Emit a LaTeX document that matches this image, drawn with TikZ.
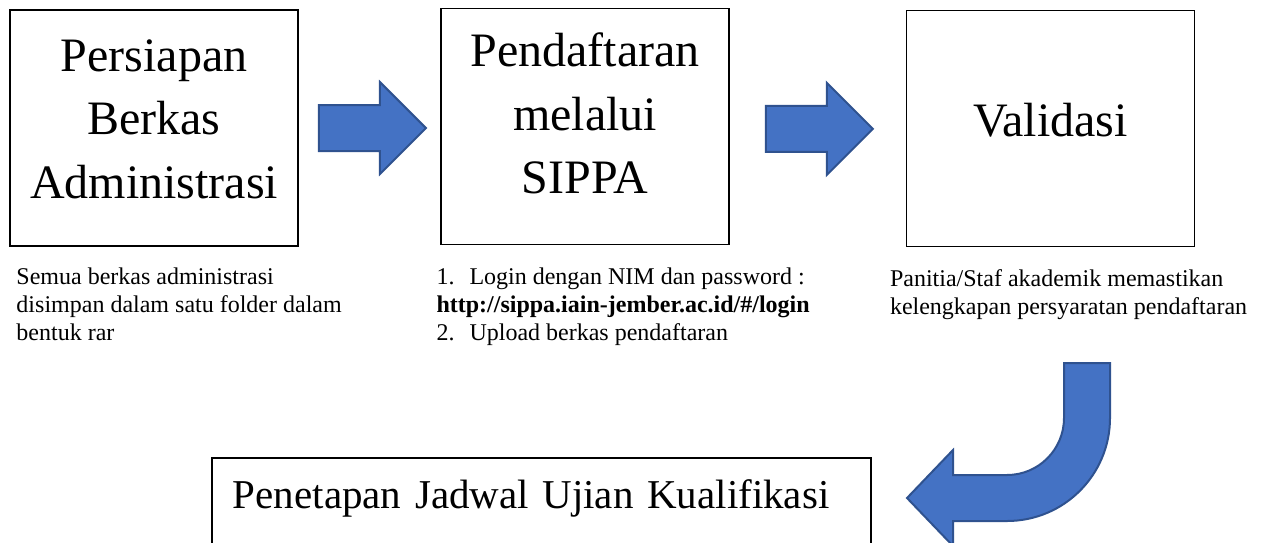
\documentclass[tikz,border=0pt]{standalone}
\usepackage{fontspec}
\setmainfont{Liberation Serif}
\usetikzlibrary{shapes.arrows}
\usetikzlibrary{positioning}
\definecolor{arrowblue}{HTML}{4472C4}
\definecolor{arrowedge}{HTML}{2F528F}
\tikzstyle{arrow fill} = [fill=arrowblue, draw=arrowedge, line width=1pt, line join=miter]

\begin{document}
\begin{tikzpicture}[x=0.5pt, y=-0.5pt,
    step box/.style={draw, line width=0.9pt, minimum width=144pt, minimum height=118pt, inner sep=0pt},
    box text/.style={inner sep=0pt, align=center, font=\fontsize{24}{31.75}\selectfont},
    note/.style={inner sep=0pt, align=left, font=\fontsize{12}{14}\selectfont},
    block arrow/.style={single arrow, arrow fill, inner xsep=0pt, inner ysep=11pt,
                        minimum height=53.5pt, single arrow head extend=11.5pt,
                        single arrow tip angle=90, single arrow head indent=0pt}]

  \useasboundingbox (0,0) rectangle (1262,542);

  % the three steps
  \node[step box] (berkas) at (154,128) {};
  \node[box text] (berkas text) at ([yshift=4.5pt]berkas.center) {Persiapan\\Berkas\\Administrasi};
  \node[step box] (daftar) at (585,126.5) {};
  \node[box text] (daftar text) at ([yshift=6.5pt]daftar.center) {Pendaftaran\\melalui\\SIPPA};
  \node[step box] (validasi) at (1050.5,128.5) {};
  \node[box text] (validasi text) at ([yshift=4pt]validasi.center) {Validasi};

  \node[note, below right=10.3pt and 3.5pt of berkas.south west] (noteberkas)
    {Semua berkas administrasi\\disimpan dalam satu folder dalam\\bentuk rar};
  \node[note, below right=10.8pt and -2pt of daftar.south west] (notedaftar)
    {\makebox[16.5pt][l]{1.}Login dengan NIM dan password :\\
     \textbf{http://sippa.iain-jember.ac.id/\#/login}\\
     \makebox[16.5pt][l]{2.}Upload berkas pendaftaran};
  \node[note, below right=10.8pt and -8pt of validasi.south west] (notevalidasi)
    {Panitia/Staf akademik memastikan\\kelengkapan persyaratan pendaftaran};

  \node[block arrow, right=9.5pt of berkas] (arrow1) {};
  \node[block arrow, right=17.5pt of daftar, yshift=-1.2pt] (arrow2) {};

  % last step, runs off the bottom
  \node[draw, line width=0.9pt, anchor=north west, inner xsep=10.5pt, inner ysep=12.5pt,
        text width=308.5pt, align=left, text height=13pt, text depth=40pt,
        font=\fontsize{20.5}{24}\selectfont] (jadwal) at (211,457)
    {Penetapan Jadwal Ujian Kualifikasi};

  \draw[arrow fill] (1064,363) -- (1064,418)
    .. controls (1064,449.5) and (1038.5,475) .. (1007,475)
    -- (953,475) -- (953,450) -- (907,498) -- (953,546) -- (953,521) -- (1007,521)
    .. controls (1063.9,521) and (1110,474.9) .. (1110,418)
    -- (1110,363) -- cycle;
\end{tikzpicture}
\end{document}
